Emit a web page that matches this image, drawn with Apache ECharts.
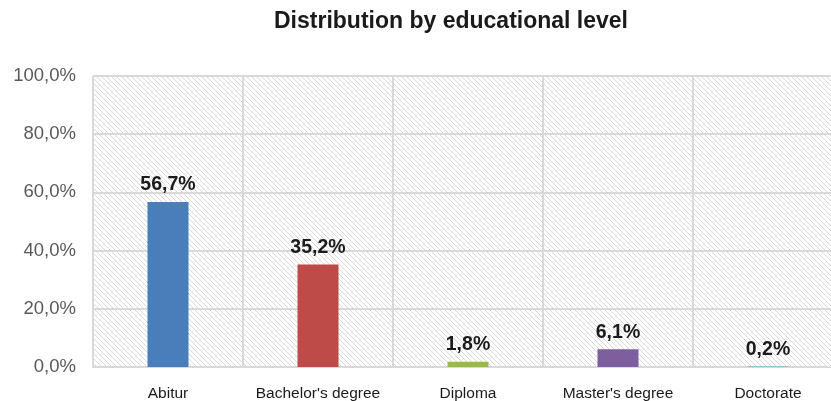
<!DOCTYPE html>
<html><head><meta charset="utf-8">
<script src="https://cdn.jsdelivr.net/npm/echarts@6/dist/echarts.min.js"></script>
<style>html,body{margin:0;padding:0;background:#fff}#c{width:831px;height:401px}</style>
</head><body><div id="c"></div>
<script>
var categories = ["Abitur", "Bachelor's degree", "Diploma", "Master's degree", "Doctorate"];
var values = [56.7, 35.2, 1.8, 6.1, 0.2];
var colors = ["#4A7EBB", "#BE4B48", "#98B954", "#7D5FA0", "#4BACC6"];
var yTicks = [0, 20, 40, 60, 80, 100];

function fmt(v){ return v.toFixed(1).replace('.', ',') + '%'; }

var pc = document.createElement('canvas');
pc.width = 5; pc.height = 5;
var ctx = pc.getContext('2d');
ctx.fillStyle = '#ffffff'; ctx.fillRect(0,0,5,5);
ctx.strokeStyle = '#dadada'; ctx.lineWidth = 1;
ctx.beginPath();
for (var k = -5; k <= 10; k += 5) { ctx.moveTo(k, 0); ctx.lineTo(k + 5, 5); }
ctx.stroke();

var chart = echarts.init(document.getElementById('c'));
chart.setOption({
  animation: false,
  title: { text: 'Distribution by educational level', left: 269, top: 5,
    textStyle: { fontFamily: 'Liberation Sans', fontWeight: 'bold', fontSize: 23, color: '#1a1a1a' } },
  grid: { left: 93, top: 76, width: 750, height: 291, show: true, outerBoundsMode: 'none',
    containLabel: false,
    backgroundColor: { image: pc, repeat: 'repeat' }, borderWidth: 0 },
  xAxis: { type: 'category', data: categories,
    axisLine: { show: true, lineStyle: { color: '#d9d9d9', width: 2 } },
    axisTick: { show: false },
    splitLine: { show: true, interval: 0, lineStyle: { color: '#d9d9d9', width: 2 } },
    axisLabel: { interval: 0, fontFamily: 'Liberation Sans', fontSize: 15.5, color: '#1a1a1a', margin: 19 } },
  yAxis: { type: 'value', min: yTicks[0], max: yTicks[yTicks.length-1], interval: 20,
    axisLine: { show: false }, axisTick: { show: false },
    splitLine: { show: true, lineStyle: { color: '#d9d9d9', width: 2 } },
    axisLabel: { fontFamily: 'Liberation Sans', fontSize: 18.5, color: '#595959', margin: 17,
      formatter: function(v){ return fmt(v); } } },
  series: [{
    type: 'bar', barWidth: 41,
    data: values.map(function(v, i){ return { value: v, itemStyle: { color: colors[i] } }; }),
    label: { show: true, position: 'top', distance: 7, fontFamily: 'Liberation Sans',
      fontWeight: 'bold', fontSize: 19.5, color: '#1a1a1a',
      formatter: function(p){ return fmt(p.value); } }
  }]
});
</script></body></html>
